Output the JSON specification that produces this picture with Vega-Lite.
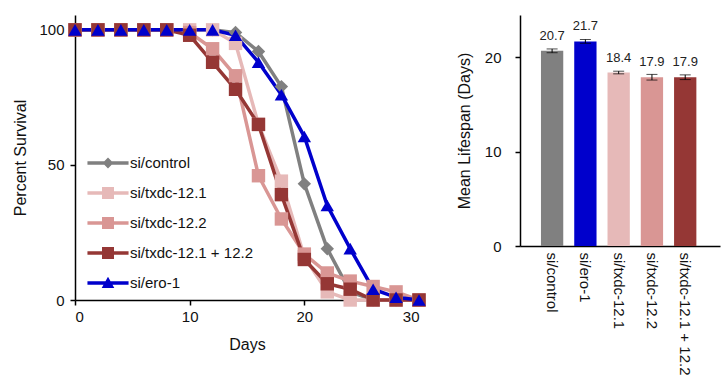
{
  "$schema": "https://vega.github.io/schema/vega-lite/v6.json",
  "background": "white",
  "padding": {"left": 12, "top": 15, "right": 5, "bottom": 5},
  "config": {
    "view": {"stroke": null},
    "font": "Liberation Sans",
    "axis": {
      "labelFont": "Liberation Sans", "labelFontSize": 15, "labelColor": "#111",
      "titleFont": "Liberation Sans", "titleFontSize": 16, "titleFontWeight": "normal", "titleColor": "#111",
      "domainColor": "#000", "domainWidth": 1.5, "tickColor": "#000", "tickWidth": 1.5, "tickSize": 5,
      "grid": false
    }
  },
  "resolve": {"scale": {"color": "independent"}},
  "spacing": 30,
  "hconcat": [
    {
      "width": 344,
      "height": 285,
      "data": {"values": [
        {"series": "si/control", "day": 0, "surv": 100}, {"series": "si/control", "day": 2, "surv": 100}, {"series": "si/control", "day": 4, "surv": 100}, {"series": "si/control", "day": 6, "surv": 100}, {"series": "si/control", "day": 8, "surv": 100}, {"series": "si/control", "day": 10, "surv": 100}, {"series": "si/control", "day": 12, "surv": 100}, {"series": "si/control", "day": 14, "surv": 99}, {"series": "si/control", "day": 16, "surv": 92}, {"series": "si/control", "day": 18, "surv": 79}, {"series": "si/control", "day": 20, "surv": 43}, {"series": "si/control", "day": 22, "surv": 19}, {"series": "si/control", "day": 24, "surv": 3}, {"series": "si/control", "day": 26, "surv": 0}, {"series": "si/control", "day": 28, "surv": 0}, {"series": "si/control", "day": 30, "surv": 0},
        {"series": "si/txdc-12.1", "day": 0, "surv": 100}, {"series": "si/txdc-12.1", "day": 2, "surv": 100}, {"series": "si/txdc-12.1", "day": 4, "surv": 100}, {"series": "si/txdc-12.1", "day": 6, "surv": 100}, {"series": "si/txdc-12.1", "day": 8, "surv": 100}, {"series": "si/txdc-12.1", "day": 10, "surv": 100}, {"series": "si/txdc-12.1", "day": 12, "surv": 100}, {"series": "si/txdc-12.1", "day": 14, "surv": 95}, {"series": "si/txdc-12.1", "day": 16, "surv": 65}, {"series": "si/txdc-12.1", "day": 18, "surv": 44}, {"series": "si/txdc-12.1", "day": 20, "surv": 16}, {"series": "si/txdc-12.1", "day": 22, "surv": 3}, {"series": "si/txdc-12.1", "day": 24, "surv": 0}, {"series": "si/txdc-12.1", "day": 26, "surv": 0}, {"series": "si/txdc-12.1", "day": 28, "surv": 0}, {"series": "si/txdc-12.1", "day": 30, "surv": 0},
        {"series": "si/txdc-12.2", "day": 0, "surv": 100}, {"series": "si/txdc-12.2", "day": 2, "surv": 100}, {"series": "si/txdc-12.2", "day": 4, "surv": 100}, {"series": "si/txdc-12.2", "day": 6, "surv": 100}, {"series": "si/txdc-12.2", "day": 8, "surv": 100}, {"series": "si/txdc-12.2", "day": 10, "surv": 99}, {"series": "si/txdc-12.2", "day": 12, "surv": 93}, {"series": "si/txdc-12.2", "day": 14, "surv": 83}, {"series": "si/txdc-12.2", "day": 16, "surv": 46}, {"series": "si/txdc-12.2", "day": 18, "surv": 30}, {"series": "si/txdc-12.2", "day": 20, "surv": 17}, {"series": "si/txdc-12.2", "day": 22, "surv": 10}, {"series": "si/txdc-12.2", "day": 24, "surv": 7}, {"series": "si/txdc-12.2", "day": 26, "surv": 5}, {"series": "si/txdc-12.2", "day": 28, "surv": 3}, {"series": "si/txdc-12.2", "day": 30, "surv": 0},
        {"series": "si/txdc-12.1 + 12.2", "day": 0, "surv": 100}, {"series": "si/txdc-12.1 + 12.2", "day": 2, "surv": 100}, {"series": "si/txdc-12.1 + 12.2", "day": 4, "surv": 100}, {"series": "si/txdc-12.1 + 12.2", "day": 6, "surv": 100}, {"series": "si/txdc-12.1 + 12.2", "day": 8, "surv": 100}, {"series": "si/txdc-12.1 + 12.2", "day": 10, "surv": 98}, {"series": "si/txdc-12.1 + 12.2", "day": 12, "surv": 88}, {"series": "si/txdc-12.1 + 12.2", "day": 14, "surv": 78}, {"series": "si/txdc-12.1 + 12.2", "day": 16, "surv": 65}, {"series": "si/txdc-12.1 + 12.2", "day": 18, "surv": 39}, {"series": "si/txdc-12.1 + 12.2", "day": 20, "surv": 15}, {"series": "si/txdc-12.1 + 12.2", "day": 22, "surv": 6}, {"series": "si/txdc-12.1 + 12.2", "day": 24, "surv": 4}, {"series": "si/txdc-12.1 + 12.2", "day": 26, "surv": 0}, {"series": "si/txdc-12.1 + 12.2", "day": 28, "surv": 0}, {"series": "si/txdc-12.1 + 12.2", "day": 30, "surv": 0},
        {"series": "si/ero-1", "day": 0, "surv": 100}, {"series": "si/ero-1", "day": 2, "surv": 100}, {"series": "si/ero-1", "day": 4, "surv": 100}, {"series": "si/ero-1", "day": 6, "surv": 100}, {"series": "si/ero-1", "day": 8, "surv": 100}, {"series": "si/ero-1", "day": 10, "surv": 100}, {"series": "si/ero-1", "day": 12, "surv": 100}, {"series": "si/ero-1", "day": 14, "surv": 98}, {"series": "si/ero-1", "day": 16, "surv": 88}, {"series": "si/ero-1", "day": 18, "surv": 76}, {"series": "si/ero-1", "day": 20, "surv": 60.5}, {"series": "si/ero-1", "day": 22, "surv": 35}, {"series": "si/ero-1", "day": 24, "surv": 19}, {"series": "si/ero-1", "day": 26, "surv": 4}, {"series": "si/ero-1", "day": 28, "surv": 1}, {"series": "si/ero-1", "day": 30, "surv": 0}
      ]},
      "encoding": {
        "x": {"field": "day", "type": "quantitative", "scale": {"domain": [0, 30], "nice": false},
              "axis": {"title": "Days", "values": [0, 10, 20, 30], "labelPadding": 4, "titlePadding": 12, "titleFontSize": 16, "titleFont": "Liberation Sans", "titleFontWeight": "normal"}},
        "y": {"field": "surv", "type": "quantitative", "scale": {"domain": [0, 105.5], "nice": false},
              "axis": {"title": "Percent Survival", "values": [0, 50, 100], "labelPadding": 6, "titlePadding": 10, "titleFontSize": 16, "titleFont": "Liberation Sans", "titleFontWeight": "normal"}}
      },
      "layer": [
        {
          "mark": {"type": "line", "strokeWidth": 3.5, "clip": false},
          "encoding": {
            "color": {"field": "series", "type": "nominal",
                      "scale": {"domain": ["si/control", "si/txdc-12.1", "si/txdc-12.2", "si/txdc-12.1 + 12.2", "si/ero-1"],
                                "range": ["#808080", "#E6B9B8", "#D99694", "#953735", "#0000CC"]},
                      "legend": {
                        "title": null, "orient": "none", "legendX": 18, "legendY": 133,
                        "padding": 0, "rowPadding": 7, "symbolSize": 900, "labelOffset": 7,
                        "labelFont": "Liberation Sans", "labelFontSize": 15, "labelColor": "#111",
                        "symbolType": "square",
                        "encode": {"symbols": {"update": {
                          "shape": {"signal": "datum.value === 'si/control' ? 'M-1.37,-0.11H1.37V0.11H-1.37Z M0,-0.36L0.36,0L0,0.36L-0.36,0Z' : datum.value === 'si/ero-1' ? 'M-1.37,-0.11H1.37V0.11H-1.37Z M0,-0.42L0.42,0.33H-0.42Z' : 'M-1.37,-0.11H1.37V0.11H-1.37Z M-0.4,-0.4H0.4V0.4H-0.4Z'"},
                          "fill": {"signal": "datum.value === 'si/control' ? '#808080' : datum.value === 'si/txdc-12.1' ? '#E6B9B8' : datum.value === 'si/txdc-12.2' ? '#D99694' : datum.value === 'si/txdc-12.1 + 12.2' ? '#953735' : '#0000CC'"},
                          "stroke": {"value": "transparent"},
                          "strokeWidth": {"value": 0},
                          "opacity": {"value": 1},
                          "size": {"value": 900}
                        }}}
                      }}
          }
        },
        {
          "mark": {"type": "point", "filled": true, "opacity": 1, "size": 180, "clip": false},
          "encoding": {
            "shape": {"field": "series", "type": "nominal",
                      "scale": {"domain": ["si/control", "si/txdc-12.1", "si/txdc-12.2", "si/txdc-12.1 + 12.2", "si/ero-1"],
                                "range": ["diamond", "square", "square", "square", "triangle-up"]},
                      "legend": null},
            "color": {"field": "series", "type": "nominal",
                      "scale": {"domain": ["si/control", "si/txdc-12.1", "si/txdc-12.2", "si/txdc-12.1 + 12.2", "si/ero-1"],
                                "range": ["#808080", "#E6B9B8", "#D99694", "#953735", "#0000CC"]},
                      "legend": null}
          }
        }
      ]
    },
    {
      "width": 200,
      "height": 231,
      "data": {"values": [
        {"series": "si/control", "mean": 20.7, "err": 0.2},
        {"series": "si/ero-1", "mean": 21.7, "err": 0.2},
        {"series": "si/txdc-12.1", "mean": 18.4, "err": 0.14},
        {"series": "si/txdc-12.2", "mean": 17.9, "err": 0.3},
        {"series": "si/txdc-12.1 + 12.2", "mean": 17.9, "err": 0.25}
      ]},
      "encoding": {
        "x": {"field": "series", "type": "nominal",
              "sort": ["si/control", "si/ero-1", "si/txdc-12.1", "si/txdc-12.2", "si/txdc-12.1 + 12.2"],
              "scale": {"paddingInner": 0.33, "paddingOuter": 0.67, "align": 0.47},
              "axis": {"title": null, "labelAngle": 90, "ticks": false, "labelPadding": 6, "labelLimit": 200, "labelFontSize": 15}}
      },
      "layer": [
        {
          "mark": {"type": "bar"},
          "encoding": {
            "y": {"field": "mean", "type": "quantitative", "title": "Mean Lifespan (Days)", "scale": {"domain": [0, 24.5], "nice": false},
                  "axis": {"title": "Mean Lifespan (Days)", "values": [0, 10, 20], "labelPadding": 14, "titlePadding": 12, "titleFontSize": 16, "titleFont": "Liberation Sans", "titleFontWeight": "normal"}},
            "color": {"field": "series", "type": "nominal",
                      "scale": {"domain": ["si/control", "si/txdc-12.1", "si/txdc-12.2", "si/txdc-12.1 + 12.2", "si/ero-1"],
                                "range": ["#808080", "#E6B9B8", "#D99694", "#953735", "#0000CC"]},
                      "legend": null}
          }
        },
        {
          "mark": {"type": "errorbar", "ticks": {"size": 11, "color": "#000"}, "rule": {"color": "#000"}, "thickness": 1},
          "encoding": {
            "y": {"field": "mean", "type": "quantitative", "title": "Mean Lifespan (Days)"},
            "yError": {"field": "err"}
          }
        },
        {
          "mark": {"type": "text", "dy": -15, "baseline": "middle", "fontSize": 13, "font": "Liberation Sans", "color": "#222"},
          "encoding": {
            "y": {"field": "mean", "type": "quantitative", "title": "Mean Lifespan (Days)"},
            "text": {"field": "mean", "type": "quantitative", "format": ".1f"}
          }
        }
      ]
    }
  ]
}
